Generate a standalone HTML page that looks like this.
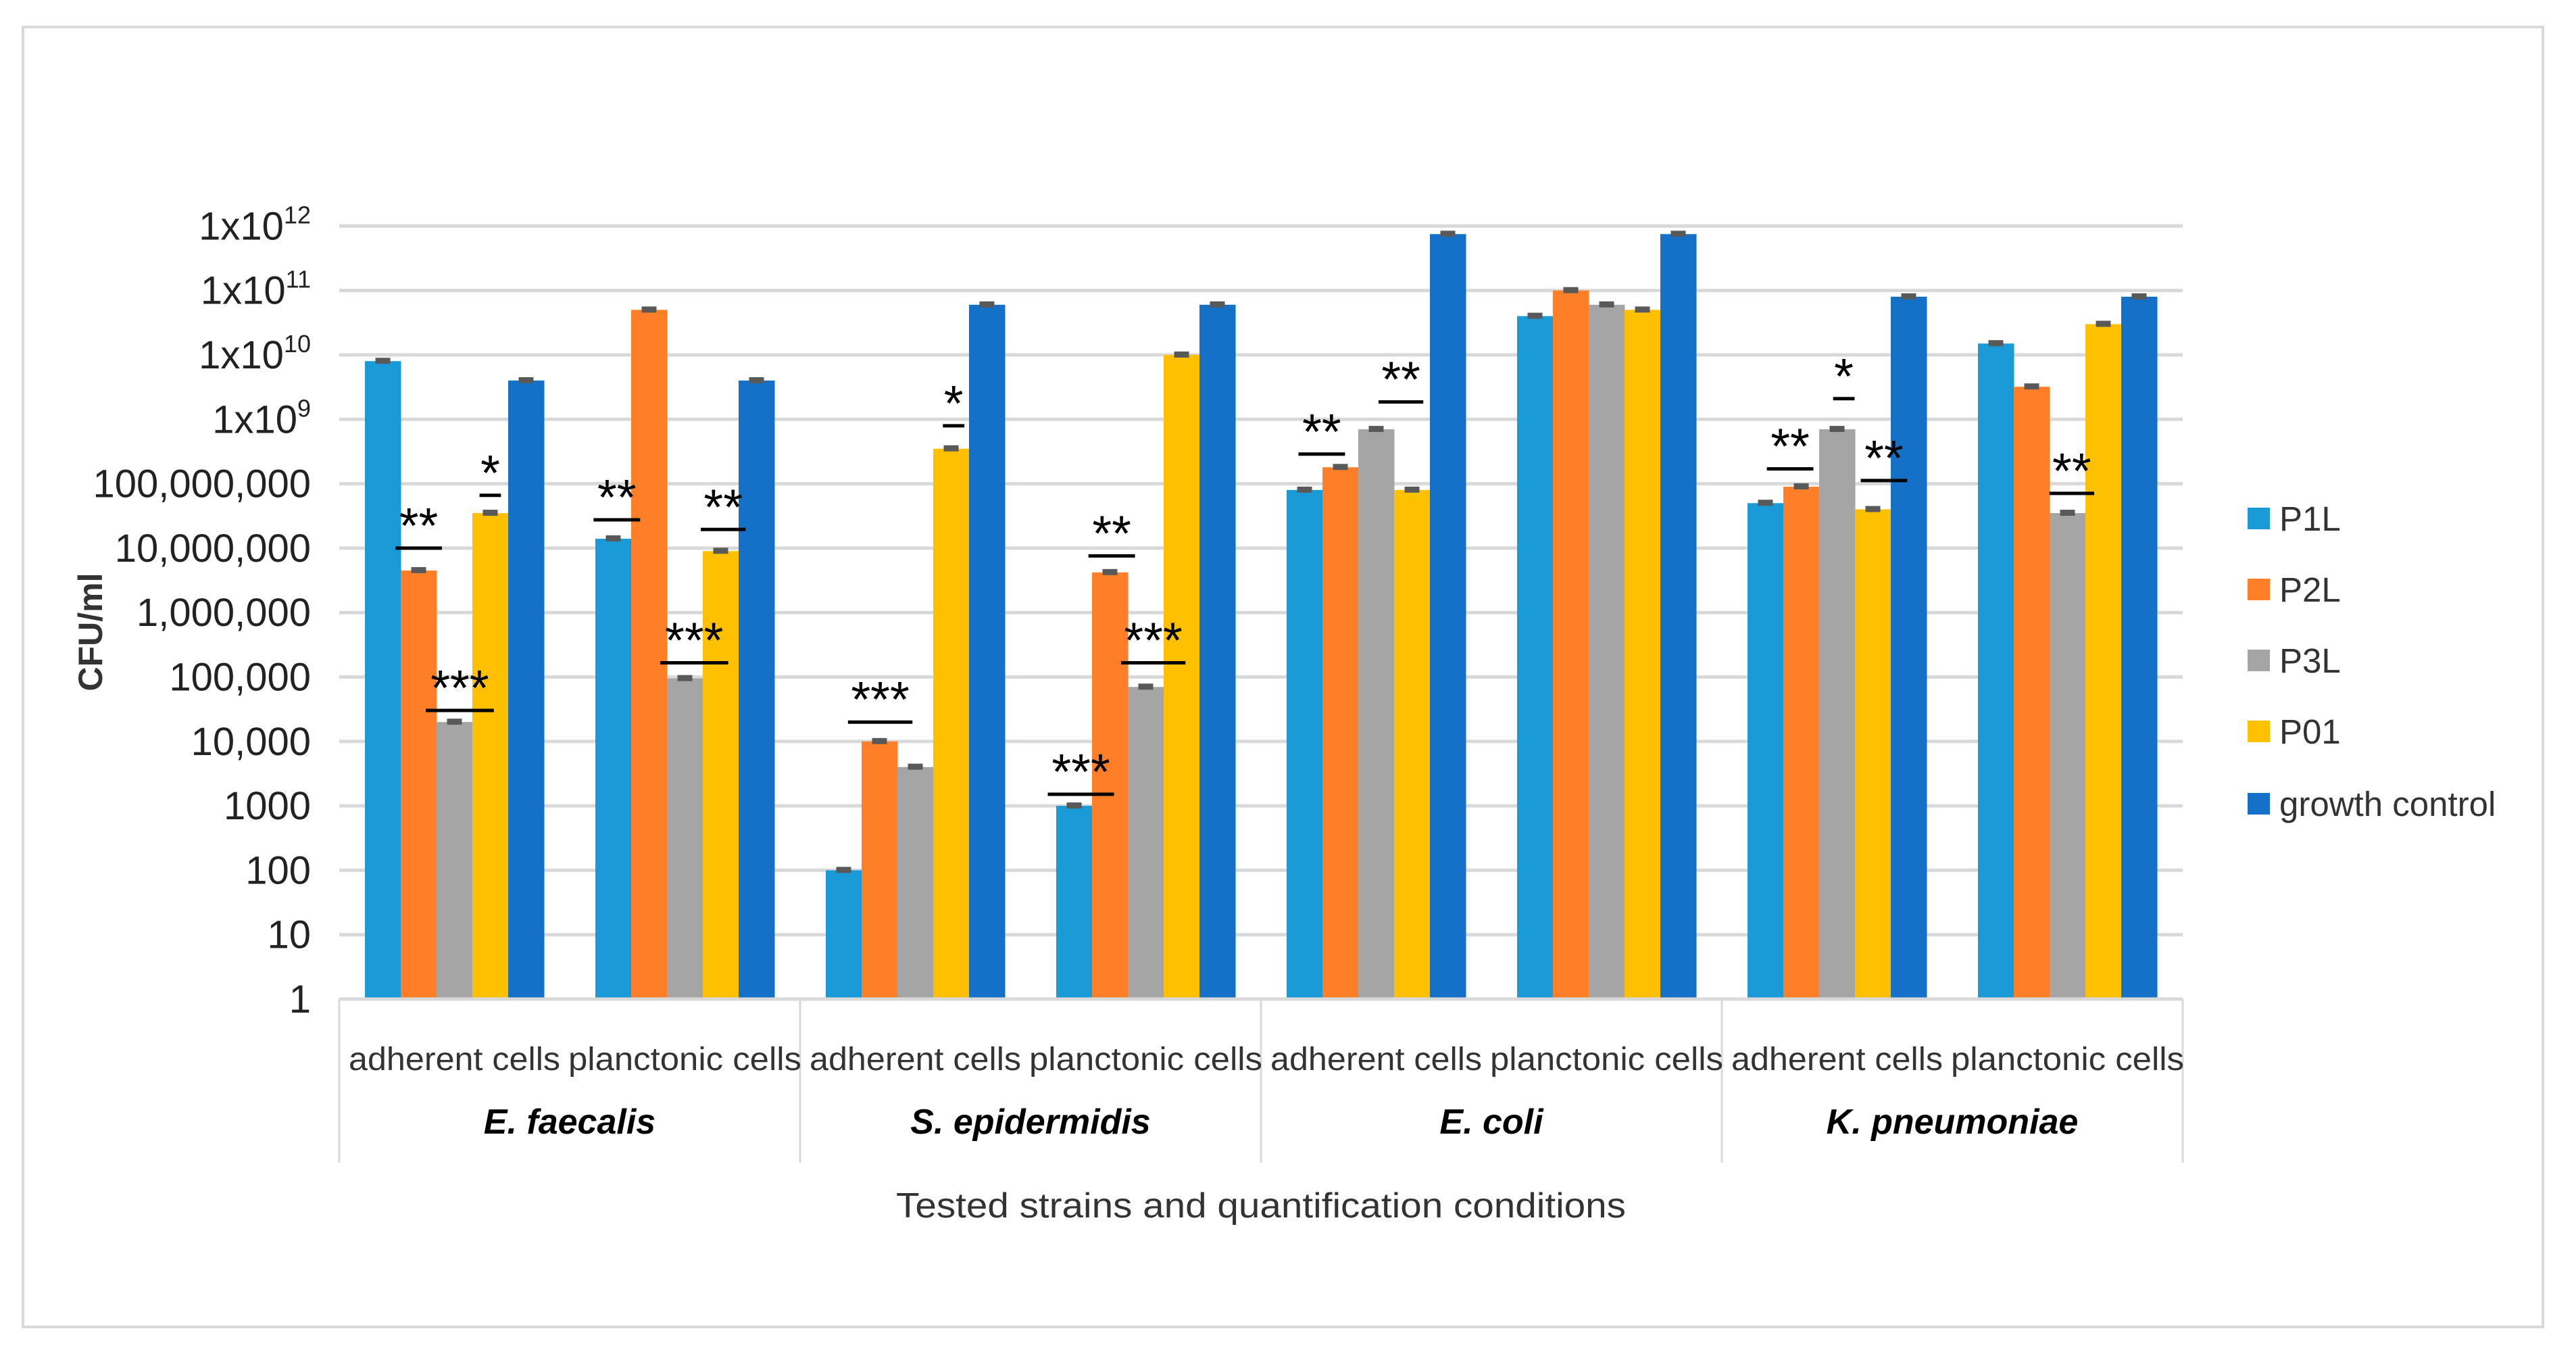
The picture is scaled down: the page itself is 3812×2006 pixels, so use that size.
<!DOCTYPE html>
<html><head><meta charset="utf-8"><style>
html,body{margin:0;padding:0;background:#fff;}
svg{display:block;font-family:"Liberation Sans",sans-serif;}
</style></head><body>
<svg id="chart" width="3812" height="2006" viewBox="0 0 3812 2006" xmlns="http://www.w3.org/2000/svg">
<rect x="34" y="40" width="3729" height="1923" fill="#fff" stroke="#d9d9d9" stroke-width="4"/>
<g id="grid"></g><g id="bars"></g><g id="annots"></g><g id="axes"></g><g id="legend"></g>
</svg>
<script>
const categories = ["adherent cells","planctonic cells","adherent cells","planctonic cells","adherent cells","planctonic cells","adherent cells","planctonic cells"];
const species = ["E. faecalis","S. epidermidis","E. coli","K. pneumoniae"];
const seriesNames = ["P1L","P2L","P3L","P01","growth control"];
const seriesColors = ["#1a9bd7","#fe7f27","#a5a5a5","#fec000","#1570c8"];
const P1L = [8e9, 1.4e7, 100, 1000, 8e7, 4e10, 5e7, 1.5e10];
const P2L = [4.5e6, 5e10, 1e4, 4.2e6, 1.8e8, 1e11, 9e7, 3.2e9];
const P3L = [2e4, 9.5e4, 4e3, 7e4, 7e8, 6e10, 7e8, 3.5e7];
const P01 = [3.5e7, 9e6, 3.5e8, 1e10, 8e7, 5e10, 4e7, 3e10];
const GC  = [4e9, 4e9, 6e10, 6e10, 7.5e11, 7.5e11, 8e10, 8e10];
const tickLabels = ["1","10","100","1000","10,000","100,000","1,000,000","10,000,000","100,000,000","1x10|9","1x10|10","1x10|11","1x10|12"];
// significance: category index, bar position, line level (log10), line width (bars), marks
const sigCat = [0,0,0,1,1,1,2,2,3,3,3,4,4,6,6,6,7];
const sigPos = [1,2.15,3,0.1,2.26,3.07,1.02,3.07,0.19,1.05,2.21,0.48,2.69,0.69,2.19,3.31,2.12];
const sigLevel = [7.0,4.48,7.82,7.44,5.22,7.29,4.3,8.9,3.18,6.88,5.22,8.46,9.27,8.23,9.32,8.05,7.85];
const sigWidth = [1.3,1.9,0.6,1.3,1.9,1.25,1.8,0.6,1.85,1.3,1.8,1.3,1.25,1.3,0.6,1.3,1.25];
const sigText = ["**","***","*","**","***","**","***","*","***","**","***","**","**","**","*","**","**"];

const series=[P1L,P2L,P3L,P01,GC];
const NS="http://www.w3.org/2000/svg";
const X0=502, CW=341, BOFF=38, BW=53, Y0=1478, DEC=95.3;
const yScale=v=>Y0-Math.log10(v)*DEC;
const yLog=l=>Y0-l*DEC;
const xBar=(c,s)=>X0+c*CW+BOFF+s*BW;
function mk(tag,attrs,parent,txt){const e=document.createElementNS(NS,tag);for(const k in attrs)e.setAttribute(k,attrs[k]);if(txt!==undefined)e.textContent=txt;parent.appendChild(e);return e;}
const grid=document.getElementById('grid'),bars=document.getElementById('bars'),ann=document.getElementById('annots'),axes=document.getElementById('axes'),leg=document.getElementById('legend');
const XR=X0+CW*categories.length;
tickLabels.forEach((t,i)=>{
  const y=yLog(i);
  if(i>0){const g=mk('line',{x1:X0,x2:XR,y1:y,y2:y,stroke:'#d9d9d9','stroke-width':5},grid);
  
  }
  const tx=mk('text',{x:460,y:y+20,'text-anchor':'end','font-size':58,fill:'#222'},axes);
  
  
  if(t.includes('|')){const p=t.split('|');tx.textContent=p[0];mk('tspan',{'font-size':36,dy:-24},tx,p[1]);}
  else tx.textContent=t;
});
series.forEach((arr,s)=>{
  arr.forEach((v,c)=>{
    const x=xBar(c,s),y=yScale(v);
    const r=mk('rect',{x:x,y:y,width:BW+0.5,height:Y0-y,fill:seriesColors[s]},bars);
    
    
    const e=mk('rect',{x:x+BW/2-11,y:y-5,width:22,height:9,fill:'#595959'},bars);
    
    
  });
});
sigText.forEach((t,i)=>{
  const cx=xBar(sigCat[i],sigPos[i])+BW/2,y=yLog(sigLevel[i]),w=sigWidth[i]*BW;
  const l=mk('line',{x1:cx-w/2,x2:cx+w/2,y1:y,y2:y,stroke:'#000','stroke-width':5},ann);
  
  
  const tx=mk('text',{x:cx,y:y-8,'text-anchor':'middle','font-size':74,fill:'#000'},ann,t);
  
  
});
const base=mk('line',{x1:X0,x2:XR,y1:Y0,y2:Y0,stroke:'#d9d9d9','stroke-width':5},axes);


for(let k=0;k<=species.length;k++){
  const x=X0+k*2*CW;
  const l=mk('line',{x1:x,x2:x,y1:Y0,y2:1720,stroke:'#d9d9d9','stroke-width':3},axes);
  
  
}
categories.forEach((c,i)=>{
  const tx=mk('text',{x:X0+i*CW+CW/2,y:1583,'text-anchor':'middle','font-size':48,fill:'#333',textLength:c.startsWith('a')?313:345,lengthAdjust:'spacingAndGlyphs'},axes,c);
  
  
});
species.forEach((s,i)=>{
  const tx=mk('text',{x:X0+i*2*CW+CW,y:1677,'text-anchor':'middle','font-size':52,'font-weight':'bold','font-style':'italic',fill:'#000'},axes,s);
  
  
});
const xt=mk('text',{x:1866,y:1801,'text-anchor':'middle','font-size':52,fill:'#333',textLength:1080,lengthAdjust:'spacingAndGlyphs'},axes,'Tested strains and quantification conditions');


const yt=mk('text',{x:0,y:0,'text-anchor':'middle','font-size':50,'font-weight':'bold',fill:'#333',transform:'translate(151,935) rotate(-90)'},axes,'CFU/ml');


const legY=[767,872,977,1082,1189];
seriesNames.forEach((n,i)=>{
  const g=mk('g',{},leg);
  
  
  mk('rect',{x:3326,y:legY[i]-16,width:33,height:32,fill:seriesColors[i]},g);
  mk('text',{x:3373,y:legY[i]+18,'font-size':51,fill:'#333'},g,n);
});
</script>
</body></html>
